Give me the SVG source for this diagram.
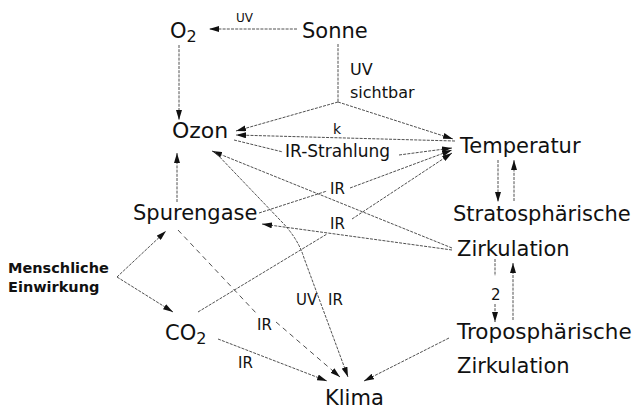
<svg xmlns="http://www.w3.org/2000/svg" width="638" height="412" viewBox="0 0 638 412">
<style>
.t{font-family:"DejaVu Sans","Liberation Sans",sans-serif;font-size:21px;fill:#111}
.s{font-family:"DejaVu Sans","Liberation Sans",sans-serif;font-size:15px;fill:#111}
.m{font-family:"DejaVu Sans","Liberation Sans",sans-serif;font-size:14.5px;font-weight:bold;fill:#111}
.c line,.c path{stroke:#3c3c3c;stroke-width:0.9;fill:none;stroke-dasharray:3 1.2}
.c .d{stroke-dasharray:5 4}
.c .a{marker-end:url(#ah)}
</style>
<defs>
<marker id="ah" markerUnits="userSpaceOnUse" markerWidth="10" markerHeight="6" refX="10" refY="3" orient="auto">
<path d="M0,0 L10,3 L0,6 z" fill="#111"/>
</marker>
</defs>
<rect width="638" height="412" fill="#fff"/>
<g id="connectors" class="c">
<line class="a" x1="297" y1="29" x2="209" y2="29"/>
<line x1="338" y1="44" x2="338" y2="102"/>
<line class="a" x1="338" y1="102" x2="236" y2="131"/>
<line class="a" x1="338" y1="102" x2="453" y2="139"/>
<line class="a" x1="179" y1="45" x2="179" y2="120"/>
<line class="a" x1="455" y1="141" x2="236" y2="135"/>
<line x1="234" y1="140" x2="283" y2="152"/>
<line class="a" x1="399" y1="155" x2="452" y2="148"/>
<line class="a" x1="177" y1="202" x2="177" y2="153"/>
<line class="a" x1="452" y1="248" x2="212" y2="151"/>
<path class="a" d="M214,151 L280,220 Q298,238 304,258 L348,377"/>
<line x1="259" y1="213" x2="327" y2="191"/>
<line class="a" x1="350" y1="188" x2="452" y2="150"/>
<line x1="198" y1="312" x2="327" y2="234"/>
<line class="a" x1="352" y1="219" x2="452" y2="153"/>
<line class="a" x1="452" y1="250" x2="262" y2="224"/>
<line class="a" x1="498" y1="160" x2="498" y2="202"/>
<line class="a" x1="514" y1="201" x2="514" y2="160"/>
<line x1="495" y1="259" x2="495" y2="276"/>
<line class="a" x1="495" y1="304" x2="495" y2="322"/>
<line class="a" x1="513" y1="320" x2="513" y2="263"/>
<line class="a" x1="449" y1="338" x2="364" y2="381"/>
<line class="a" x1="218" y1="339" x2="327" y2="381"/>
<line class="d" x1="178" y1="230" x2="257" y2="314"/>
<line class="a d" x1="276" y1="322" x2="340" y2="377"/>
<line class="a" x1="117" y1="277" x2="166" y2="231"/>
<line class="a" x1="117" y1="277" x2="173" y2="312"/>
</g>
<g id="labels">
<text class="s" x="236" y="22" style="font-size:12px">UV</text>
<text class="s" x="350" y="75" style="font-size:16px">UV</text>
<text class="s" x="350" y="98" style="font-size:16px">sichtbar</text>
<text class="s" x="333" y="134" style="font-size:14px">k</text>
<text class="s" x="285" y="157" style="font-size:17px">IR-Strahlung</text>
<text class="s" x="330" y="194">IR</text>
<text class="s" x="330" y="229">IR</text>
<text class="s" x="296" y="305">UV</text>
<text class="s" x="328" y="305">IR</text>
<text class="s" x="257" y="330">IR</text>
<text class="s" x="238" y="368">IR</text>
<text class="s" x="491" y="300">2</text>
</g>
<g id="O2"><text class="t" x="170" y="38">O<tspan dy="4" style="font-size:16px">2</tspan></text></g>
<g id="Sonne"><text class="t" x="302" y="38">Sonne</text></g>
<g id="Ozon"><text class="t" x="172" y="138" style="font-size:22px">Ozon</text></g>
<g id="Temperatur"><text class="t" x="460" y="153">Temperatur</text></g>
<g id="Spurengase"><text class="t" x="133" y="220">Spurengase</text></g>
<g id="Strat"><text class="t" x="453" y="221">Stratosphärische</text><text class="t" x="457" y="256">Zirkulation</text></g>
<g id="Menschliche"><text class="m" x="8" y="273">Menschliche</text><text class="m" x="8" y="292">Einwirkung</text></g>
<g id="CO2"><text class="t" x="165" y="340">CO<tspan dy="4" style="font-size:16px">2</tspan></text></g>
<g id="Trop"><text class="t" x="457" y="339" style="font-size:21.5px">Troposphärische</text><text class="t" x="457" y="373">Zirkulation</text></g>
<g id="Klima"><text class="t" x="325" y="405">Klima</text></g>
</svg>
